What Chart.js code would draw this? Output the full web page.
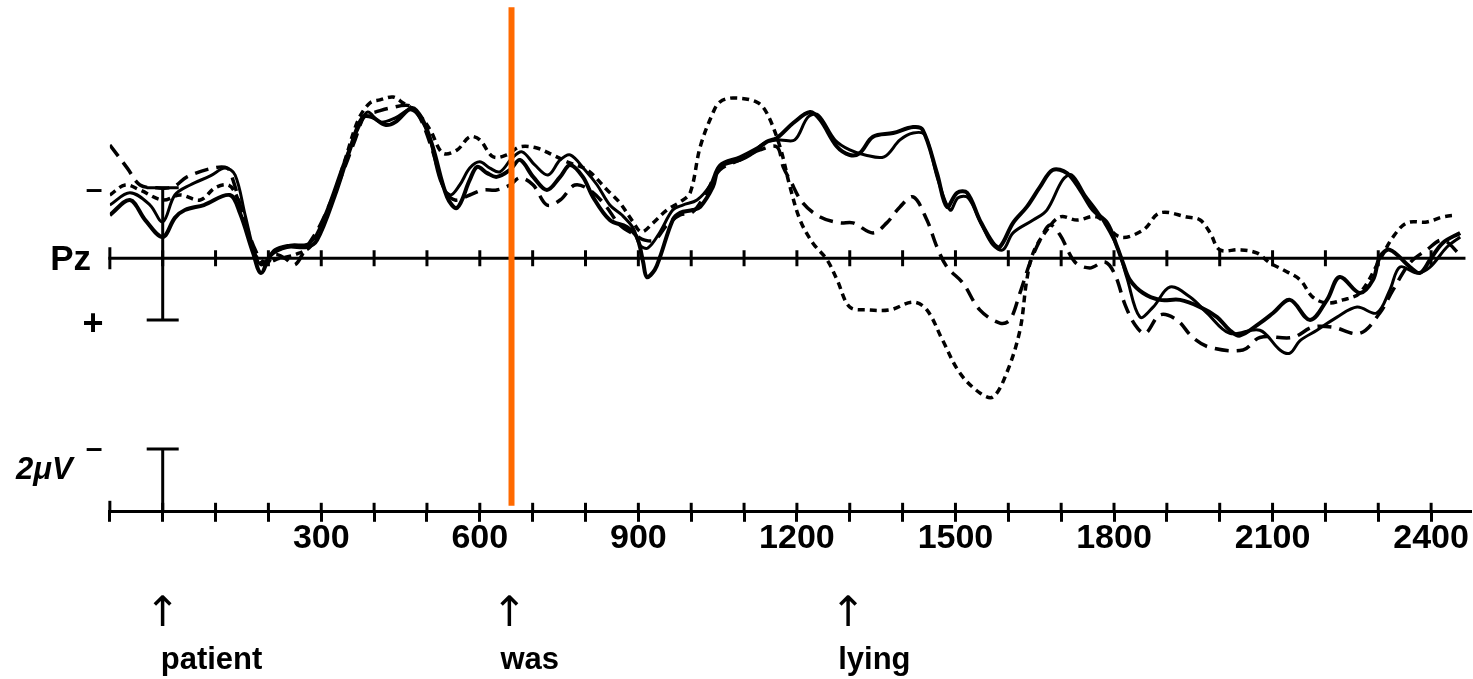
<!DOCTYPE html>
<html><head><meta charset="utf-8">
<script src="https://cdn.jsdelivr.net/npm/chart.js@4.4.1/dist/chart.umd.min.js"></script>
<style>html,body{margin:0;padding:0;background:#fff;}#wrap{width:1473px;height:679px;}</style>
</head><body><div id="wrap"><canvas id="c" width="1473" height="679"></canvas></div>
<script>
// time (ms) , amplitude (µV, negative plotted up)
const thickSolid = [[-100,-1.38],[-62,-1.86],[-33,-1.22],[0,-0.68],[23,-1.29],[42,-1.54],[78,-1.70],[127,-2.02],[146,-1.45],[171,-0.17],[186,0.47],[205,-0.11],[235,-0.36],[273,-0.36],[292,-0.58],[326,-2.02],[354,-3.46],[377,-4.48],[396,-4.51],[421,-4.26],[440,-4.35],[472,-4.80],[492,-4.42],[511,-3.56],[538,-1.96],[557,-1.61],[581,-2.50],[595,-2.92],[614,-2.72],[632,-2.60],[657,-2.82],[676,-3.14],[701,-2.60],[727,-2.18],[752,-2.60],[771,-2.98],[795,-2.60],[814,-1.96],[846,-1.22],[878,-1.00],[897,-0.68],[909,0.12],[916,0.60],[931,0.37],[941,-0.04],[965,-1.22],[979,-1.45],[1003,-1.54],[1017,-1.64],[1041,-2.28],[1054,-2.92],[1092,-3.14],[1111,-3.30],[1143,-3.72],[1162,-3.84],[1193,-4.32],[1225,-4.67],[1244,-4.42],[1276,-3.56],[1300,-3.30],[1319,-3.36],[1344,-3.88],[1382,-4.00],[1420,-4.19],[1438,-4.10],[1465,-2.72],[1484,-1.64],[1503,-2.09],[1522,-2.09],[1546,-1.22],[1571,-0.49],[1584,-0.36],[1609,-1.13],[1635,-1.64],[1660,-2.28],[1684,-2.82],[1711,-2.72],[1736,-2.18],[1760,-1.54],[1787,-1.13],[1806,-0.36],[1817,0.15],[1830,0.69],[1855,1.11],[1887,1.33],[1925,1.33],[1963,1.56],[1995,1.88],[2019,2.30],[2038,2.47],[2076,2.07],[2101,1.75],[2133,1.33],[2171,1.97],[2203,1.33],[2227,0.60],[2265,1.11],[2290,0.69],[2303,-0.04],[2322,-0.27],[2360,0.28],[2379,0.47],[2398,0.05],[2422,-0.49],[2455,-0.81]];
const thinSolid = [[-100,-1.70],[-62,-2.09],[-24,-1.70],[0,-1.16],[23,-2.02],[52,-2.34],[90,-2.63],[118,-2.88],[137,-2.66],[156,-1.38],[175,-0.11],[188,0.21],[212,-0.27],[241,-0.42],[279,-0.49],[307,-1.38],[345,-3.14],[373,-4.26],[388,-4.67],[411,-4.35],[440,-4.48],[468,-4.74],[487,-4.48],[506,-3.78],[525,-2.50],[544,-2.02],[562,-2.34],[581,-2.88],[600,-3.08],[619,-2.88],[638,-2.76],[661,-3.20],[680,-3.40],[704,-2.98],[729,-2.66],[752,-3.14],[771,-3.30],[799,-2.82],[822,-2.34],[846,-1.70],[869,-1.38],[890,-0.97],[903,-0.42],[918,-0.33],[941,-0.84],[965,-1.54],[984,-1.70],[1011,-1.86],[1036,-2.34],[1054,-2.98],[1092,-3.24],[1124,-3.52],[1143,-3.72],[1168,-3.78],[1196,-3.78],[1221,-4.51],[1240,-4.58],[1272,-3.78],[1300,-3.46],[1329,-3.30],[1365,-3.24],[1395,-3.78],[1420,-4.00],[1442,-3.94],[1467,-2.50],[1490,-1.54],[1505,-1.93],[1524,-1.93],[1550,-1.06],[1571,-0.42],[1590,-0.27],[1609,-0.81],[1647,-1.22],[1673,-1.54],[1703,-2.50],[1720,-2.66],[1745,-2.02],[1773,-1.38],[1806,-0.36],[1824,0.60],[1849,1.88],[1874,1.56],[1906,0.92],[1944,1.24],[1976,1.75],[2019,2.40],[2076,2.30],[2114,2.93],[2133,3.03],[2152,2.63],[2184,2.30],[2222,1.88],[2260,1.56],[2297,1.75],[2322,1.01],[2341,0.28],[2373,0.47],[2398,0.28],[2430,-0.36],[2455,-0.68]];
const dashed = [[-100,-3.62],[-67,-2.88],[-43,-2.34],[-11,-2.25],[20,-2.28],[46,-2.60],[95,-2.88],[122,-2.88],[133,-2.50],[152,-1.38],[175,-0.27],[194,0.21],[212,-0.11],[231,0.00],[250,0.21],[269,-0.27],[298,-1.06],[335,-2.50],[364,-3.78],[383,-4.58],[402,-4.67],[430,-4.80],[468,-4.87],[487,-4.48],[510,-3.46],[534,-2.18],[553,-1.86],[581,-2.02],[606,-2.18],[632,-2.18],[657,-2.34],[676,-2.57],[701,-2.34],[727,-1.70],[752,-1.86],[780,-2.34],[808,-2.18],[837,-1.70],[865,-1.06],[894,-0.74],[912,-0.58],[931,-0.58],[954,-1.06],[979,-1.38],[1003,-1.48],[1026,-2.02],[1054,-2.82],[1092,-3.14],[1130,-3.46],[1162,-3.56],[1174,-2.92],[1187,-2.50],[1211,-1.77],[1244,-1.32],[1281,-1.13],[1306,-1.13],[1344,-0.81],[1370,-1.13],[1395,-1.64],[1420,-1.96],[1446,-1.22],[1465,-0.36],[1484,0.28],[1514,0.79],[1546,1.65],[1584,2.07],[1603,1.97],[1622,1.11],[1641,0.15],[1660,-0.58],[1679,-1.06],[1698,-0.74],[1726,0.12],[1754,0.31],[1783,0.12],[1802,0.53],[1821,1.49],[1840,2.13],[1859,2.40],[1887,1.81],[1919,1.97],[1949,2.53],[1982,2.85],[2044,2.93],[2076,2.53],[2138,2.53],[2176,2.20],[2214,2.20],[2265,2.40],[2303,1.75],[2328,1.01],[2360,0.15],[2392,-0.27],[2422,-0.58],[2455,-0.11]];
const dotted = [[-100,-2.02],[-71,-2.34],[-43,-2.18],[0,-1.86],[33,-2.02],[71,-1.86],[99,-2.25],[124,-2.34],[139,-2.02],[156,-1.06],[175,-0.11],[194,0.12],[222,0.00],[250,-0.11],[282,-0.42],[317,-1.70],[345,-3.14],[370,-4.42],[392,-4.96],[411,-5.06],[436,-5.15],[455,-4.96],[481,-4.67],[506,-4.10],[530,-3.36],[557,-3.46],[581,-3.88],[600,-3.78],[625,-3.24],[651,-3.30],[676,-3.56],[708,-3.52],[738,-3.30],[765,-3.08],[803,-2.82],[841,-2.18],[865,-1.77],[890,-1.16],[906,-0.84],[928,-1.13],[954,-1.54],[979,-1.80],[998,-2.09],[1017,-3.56],[1041,-4.64],[1054,-4.99],[1079,-5.12],[1124,-4.99],[1143,-4.64],[1168,-3.56],[1187,-2.28],[1206,-1.22],[1230,-0.49],[1257,0.05],[1276,0.69],[1300,1.56],[1333,1.65],[1376,1.65],[1420,1.40],[1446,1.65],[1476,2.63],[1508,3.66],[1546,4.30],[1571,4.43],[1597,3.66],[1622,2.30],[1635,0.69],[1647,-0.17],[1673,-0.90],[1698,-1.32],[1730,-1.22],[1768,-1.32],[1811,-0.68],[1855,-0.90],[1887,-1.45],[1938,-1.32],[1963,-1.22],[1982,-0.81],[2000,-0.27],[2038,-0.27],[2070,-0.17],[2095,0.15],[2120,0.37],[2152,0.69],[2176,1.24],[2203,1.43],[2233,1.33],[2265,1.11],[2303,0.05],[2328,-0.68],[2354,-1.13],[2392,-1.16],[2422,-1.32],[2449,-1.38]];

const xTickValues = [-100,0,100,200,300,400,500,600,700,800,900,1000,1100,1200,1300,1400,1500,1600,1700,1800,1900,2000,2100,2200,2300,2400];
const xLabelValues = [300,600,900,1200,1500,1800,2100,2400];
const pzAxisRange = [-100, 2465];
const markerTimes = [0, 656, 1297];
const markerWords = ['patient', 'was', 'lying'];
const markerWordShift = [-2, -9, -10];
const highlightTime = 660;
const highlightRange = [-8.02, 7.91];
const calibUpper = [-2.25, 1.97];
const calibLower = [6.09, 8.1];

const toXY = arr => arr.map(p => ({x: p[0], y: p[1]}));

const overlay = {
  id: 'overlay',
  beforeDatasetsDraw(chart) {
    const {ctx, scales: {x, y}, chartArea} = chart;
    const X = v => x.getPixelForValue(v), Y = v => y.getPixelForValue(v);
    const seg = (x1, y1, x2, y2) => { ctx.beginPath(); ctx.moveTo(x1, y1); ctx.lineTo(x2, y2); ctx.stroke(); };
    ctx.save();
    ctx.strokeStyle = '#000'; ctx.fillStyle = '#000'; ctx.lineWidth = 3; ctx.lineCap = 'butt';
    const y0 = Y(0);
    // Pz axis
    seg(X(pzAxisRange[0]) - 1.5, y0, X(pzAxisRange[1]), y0);
    xTickValues.forEach(t => {
      const h = t === xTickValues[0] ? 11 : 8;
      seg(X(t), y0 - h, X(t), y0 + h);
    });
    // upper halves of the lower axis ticks
    const yb = chartArea.bottom;
    xTickValues.forEach(t => {
      const h = t === xTickValues[0] ? 11 : 9;
      seg(X(t), yb - h, X(t), yb);
    });
    // calibration bars
    const xc = X(0);
    seg(xc, Y(calibUpper[0]), xc, Y(calibUpper[1]));
    seg(xc - 16, Y(calibUpper[0]), xc + 16, Y(calibUpper[0]));
    seg(xc - 16, Y(calibUpper[1]), xc + 16, Y(calibUpper[1]));
    seg(xc, Y(calibLower[0]), xc, Y(calibLower[1]));
    seg(xc - 16, Y(calibLower[0]), xc + 16, Y(calibLower[0]));
    // texts
    ctx.textBaseline = 'middle';
    ctx.textAlign = 'right';
    ctx.font = 'bold 35px "Liberation Sans", Arial, sans-serif';
    ctx.fillText('Pz', 91, y0 + 2);
    ctx.textAlign = 'center';
    ctx.font = 'bold 30px "Liberation Sans", Arial, sans-serif';
    ctx.fillText('\u2013', 94, Y(calibUpper[0]) + 3);
    ctx.fillText('\u2013', 94, Y(calibLower[0]) + 1);
    ctx.font = 'bold 36px "Liberation Sans", Arial, sans-serif';
    ctx.fillText('+', 93, Y(calibUpper[1]) + 5);
    ctx.textAlign = 'left';
    ctx.font = 'italic bold 31px "Liberation Sans", Arial, sans-serif';
    ctx.fillText('2\u03bcV', 16, Y(calibLower[0]) + 22);
    // event markers
    markerTimes.forEach((t, i) => {
      ctx.textAlign = 'center';
      ctx.font = '42px "DejaVu Sans", sans-serif';
      ctx.fillText('\u2191', X(t), 615);
      ctx.textAlign = 'left';
      ctx.textBaseline = 'alphabetic';
      ctx.font = 'bold 31px "Liberation Sans", Arial, sans-serif';
      ctx.fillText(markerWords[i], X(t) + markerWordShift[i], 669);
      ctx.textBaseline = 'middle';
    });
    ctx.restore();
  }
};

new Chart(document.getElementById('c'), {
  type: 'line',
  data: {
    datasets: [
      {label: 'highlight', data: [{x: highlightTime, y: highlightRange[0]}, {x: highlightTime, y: highlightRange[1]}], borderColor: '#ff6a00', borderWidth: 6, pointRadius: 0, tension: 0},
      {label: 'solid 1', data: toXY(thickSolid), borderColor: '#000', borderWidth: 4, pointRadius: 0, tension: 0.35},
      {label: 'solid 2', data: toXY(thinSolid), borderColor: '#000', borderWidth: 3, pointRadius: 0, tension: 0.35},
      {label: 'dashed', data: toXY(dashed), borderColor: '#000', borderWidth: 3.5, borderDash: [14, 8], pointRadius: 0, tension: 0.35},
      {label: 'dotted', data: toXY(dotted), borderColor: '#000', borderWidth: 3.5, borderDash: [7, 5], pointRadius: 0, tension: 0.35}
    ]
  },
  options: {
    responsive: false, animation: false, devicePixelRatio: 1,
    layout: {padding: {left: 109.85, right: 2.25, top: 0, bottom: 123.2}},
    plugins: {legend: {display: false}, tooltip: {enabled: false}},
    scales: {
      x: {
        type: 'linear', min: -100, max: 2475, position: 'bottom',
        afterBuildTicks: s => { s.ticks = xTickValues.map(v => ({value: v})); },
        ticks: {
          autoSkip: false, maxRotation: 0, padding: 0, color: '#000',
          font: {family: '"Liberation Sans", Arial, sans-serif', size: 34, weight: 'bold', lineHeight: 1},
          callback: v => xLabelValues.includes(v) ? String(v) : ''
        },
        grid: {display: true, drawOnChartArea: false, drawTicks: true, tickLength: 10, lineWidth: 3, color: '#000'},
        border: {display: true, width: 3, color: '#000'}
      },
      y: {type: 'linear', min: -8.25, max: 8.1, reverse: true, display: false}
    }
  },
  plugins: [overlay]
});
</script></body></html>
